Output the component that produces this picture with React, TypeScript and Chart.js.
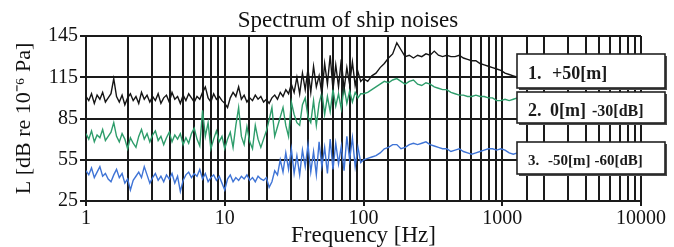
import React, { useEffect, useRef } from 'react';
import { Chart, registerables } from 'chart.js';

Chart.register(...registerables);

const FONT = "'Liberation Serif', 'Times New Roman', serif";

// Frequency axis (Hz)
const frequencies = [
  1, 1.047, 1.096, 1.148, 1.202, 1.259, 1.318, 1.380, 1.445, 1.514,
  1.585, 1.660, 1.738, 1.820, 1.905, 1.995, 2.089, 2.188, 2.291, 2.399,
  2.512, 2.630, 2.754, 2.884, 3.020, 3.162, 3.311, 3.467, 3.631, 3.802,
  3.981, 4.169, 4.365, 4.571, 4.786, 5.012, 5.248, 5.495, 5.754, 6.026,
  6.310, 6.607, 6.918, 7.244, 7.586, 7.943, 8.318, 8.710, 9.120, 9.550,
  10, 10.47, 10.96, 11.48, 12.02, 12.59, 13.18, 13.80, 14.45, 15.14,
  15.85, 16.60, 17.38, 18.20, 19.05, 19.95, 20.89, 21.88, 22.91, 23.99,
  25.12, 26.30, 27.54, 28.84, 30.20, 31.62, 33.11, 34.67, 36.31, 38.02,
  39.81, 41.69, 43.65, 45.71, 47.86, 50.12, 52.48, 54.95, 57.54, 60.26,
  63.10, 66.07, 69.18, 72.44, 75.86, 79.43, 83.18, 87.10, 91.20, 95.50,
  100,
  107.2, 114.8, 123.0, 131.8, 141.3, 151.4, 162.2, 173.8, 186.2, 199.5,
  213.8, 229.1, 245.5, 263.0, 281.8, 302.0, 323.6, 346.7, 371.5, 398.1,
  426.6, 457.1, 489.8, 524.8, 562.3, 602.6, 645.7, 691.8, 741.3, 794.3,
  851.1, 912.0, 977.2, 1047, 1122, 1202, 1288,
];

// 1. +50[m]
const seriesPlus50 = [
  101, 98, 103, 96, 102, 99, 104, 97, 100, 103,
  114, 101, 97, 102, 95, 100, 103, 98, 101, 96,
  104, 99, 102, 97, 101, 98, 103, 96, 100, 102,
  97, 104, 99, 101, 96, 102, 98, 103, 100, 97,
  101, 99, 104, 108, 100, 97, 103, 99, 101, 98,
  96, 93, 100, 104, 101, 108, 99, 102, 97, 100,
  98, 102, 99, 101, 97, 99, 96, 100, 102, 99,
  104, 101, 106, 103, 110, 104, 115, 103, 118, 106,
  121, 104, 123, 108, 116, 103, 125, 110, 131, 106,
  124, 108, 128, 106, 122, 110, 126, 109, 119, 112,
  114,
  112, 116, 118, 122, 125, 129, 132, 140, 135, 130,
  131, 129, 131, 130, 132, 131, 134, 131, 130, 131,
  130, 130, 131, 129, 128, 127, 127, 125, 124, 123,
  122, 121, 120, 118, 117, 116, 115,
];

// 2. 0[m] -30[dB]
const seriesZero = [
  74, 70, 76, 68, 73, 71, 77, 69, 72, 75,
  82, 72, 68, 74, 70, 63, 71, 67, 64, 72,
  77, 70, 74, 68, 73, 76, 69, 72, 66, 71,
  75, 68, 73, 70, 74, 66, 71, 67, 74, 78,
  70, 65, 91, 72, 82, 63, 70, 76, 68, 72,
  63, 70, 75, 64, 80, 93, 72, 66, 79, 68,
  63, 80, 70, 64, 70, 76, 84, 93, 72, 79,
  86, 93, 80, 72, 97, 88, 82, 80, 95, 100,
  86, 82, 98, 80, 96, 104, 88, 101, 90, 106,
  94, 103, 92, 108, 96, 105, 97, 104, 100, 103,
  103,
  104, 106, 108, 110, 112, 111, 113, 114, 112, 110,
  112, 113, 110, 109, 111, 110, 108, 107, 106, 106,
  104, 103, 102, 102, 101, 101, 102, 101, 101, 100,
  100, 98, 98, 99, 98, 99, 100,
];

// 3. -50[m] -60[dB]
const seriesMinus50 = [
  47, 44, 49, 42, 46, 50, 43, 45, 41, 39,
  44, 48, 42, 45, 38, 41, 33, 40, 43, 46,
  42, 50, 44, 38, 42, 45, 40, 43, 39, 44,
  41, 45, 38, 43, 32, 40, 44, 46, 42, 45,
  43, 48, 41, 45, 39, 42, 44, 40, 43, 38,
  33, 41, 44, 39, 42, 40, 43, 41, 44, 40,
  42, 39, 43, 41, 40, 42, 35, 39, 47, 44,
  55, 46, 60, 48, 63, 45, 58, 44, 62, 50,
  66, 46, 61, 44, 68, 50, 64, 45, 70, 48,
  67, 52, 65, 47, 72, 55, 71, 50, 64, 53,
  55,
  56, 57, 58, 60, 63, 64, 66, 66, 63, 64,
  66, 67, 66, 67, 68, 66, 65, 64, 63, 63,
  61, 62, 63, 61, 60, 59, 60, 61, 62, 63,
  63, 62, 63, 62, 60, 59, 60,
];

const yTickLabels = [25, 55, 85, 115, 145];
const xTickLabels = [1, 10, 100, 1000, 10000];
const seriesColors = ['#151515', '#2e9d6b', '#3f74d6'];
const legendNumbers = ['1.', '2.', '3.'];
const legendMain = ['+50[m]', '0[m]', '-50[m]'];
const legendSuffix = ['', '-30[dB]', '-60[dB]'];
const chartTitle = 'Spectrum of ship noises';

const legendBoxes = [
  { top: 54, bottom: 88, base: 79, numSize: 18, mainSize: 18, subSize: 14, mainX: 552, gap: 6 },
  { top: 92, bottom: 123, base: 116, numSize: 18, mainSize: 18, subSize: 16, mainX: 550, gap: 6 },
  { top: 142, bottom: 174, base: 165, numSize: 15, mainSize: 15, subSize: 15, mainX: 548, gap: 4 },
];

const overlayPlugin = {
  id: 'overlay',
  afterDraw(chart: any) {
    const ctx = chart.ctx as CanvasRenderingContext2D;
    ctx.save();
    // title
    ctx.fillStyle = '#111';
    ctx.font = `23px ${FONT}`;
    ctx.textAlign = 'center';
    ctx.textBaseline = 'alphabetic';
    ctx.fillText(chartTitle, 348, 27);
    // legend boxes
    const left = 517;
    const right = 665;
    legendBoxes.forEach((b, i) => {
      const w = right - left;
      const h = b.bottom - b.top;
      ctx.fillStyle = '#4a4a4a';
      ctx.fillRect(left + 2, b.top + 2, w, h);
      ctx.fillStyle = '#ffffff';
      ctx.fillRect(left, b.top, w, h);
      ctx.strokeStyle = '#222';
      ctx.lineWidth = 1.6;
      ctx.strokeRect(left, b.top, w, h);
      ctx.fillStyle = '#1a1a1a';
      ctx.textAlign = 'left';
      ctx.textBaseline = 'alphabetic';
      ctx.font = `bold ${b.numSize}px ${FONT}`;
      ctx.fillText(legendNumbers[i], 528, b.base);
      ctx.font = `bold ${b.mainSize}px ${FONT}`;
      ctx.fillText(legendMain[i], b.mainX, b.base);
      if (legendSuffix[i]) {
        const mw = ctx.measureText(legendMain[i]).width;
        ctx.font = `bold ${b.subSize}px ${FONT}`;
        ctx.fillText(legendSuffix[i], b.mainX + mw + b.gap, b.base);
      }
    });
    ctx.restore();
  },
};

export default function App() {
  const canvasRef = useRef<HTMLCanvasElement | null>(null);

  useEffect(() => {
    document.body.style.margin = '0';
    const canvas = canvasRef.current;
    if (!canvas) return;
    const allSeries = [seriesPlus50, seriesZero, seriesMinus50];
    const chart = new Chart(canvas, {
      type: 'line',
      data: {
        datasets: allSeries.map((s, k) => ({
          label: legendMain[k],
          data: frequencies.map((f, i) => ({ x: f, y: s[i] })),
          borderColor: seriesColors[k],
          borderWidth: 1.4,
          pointRadius: 0,
          tension: 0,
          fill: false,
        })),
      },
      options: {
        animation: false,
        responsive: false,
        maintainAspectRatio: false,
        layout: { padding: { top: 36, right: 33, left: 0, bottom: 0 } },
        plugins: {
          legend: { display: false },
          tooltip: { enabled: false },
          title: { display: false },
        },
        scales: {
          x: {
            type: 'logarithmic',
            min: 1,
            max: 10000,
            afterFit: (s: any) => { s.height = 46; },
            border: { color: '#1a1a1a', width: 2 },
            grid: {
              color: '#1a1a1a',
              lineWidth: 2,
              tickLength: 5,
              tickColor: (c: any) => (xTickLabels.includes(c.tick?.value) ? '#1a1a1a' : 'rgba(0,0,0,0)'),
            },
            ticks: {
              autoSkip: false,
              maxRotation: 0,
              padding: 1,
              color: '#111',
              font: { family: FONT, size: 20 },
              callback: (v: any) => (xTickLabels.includes(Number(v)) ? String(v) : ''),
            },
            title: {
              display: true,
              text: 'Frequency [Hz]',
              color: '#111',
              font: { family: FONT, size: 23, lineHeight: 1 },
              padding: { top: 0, bottom: 0 },
            },
          },
          y: {
            type: 'linear',
            min: 25,
            max: 145,
            afterFit: (s: any) => { s.width = 86; },
            border: { color: '#1a1a1a', width: 2 },
            grid: {
              color: '#1a1a1a',
              lineWidth: 2,
              tickLength: 6,
              tickColor: (c: any) => (yTickLabels.includes(c.tick?.value) ? '#1a1a1a' : 'rgba(0,0,0,0)'),
            },
            ticks: {
              stepSize: 15,
              padding: 2,
              color: '#111',
              font: { family: FONT, size: 20 },
              callback: (v: any) => (yTickLabels.includes(Number(v)) ? String(v) : ''),
            },
            title: {
              display: true,
              text: 'L [dB re 10⁻⁶ Pa]',
              color: '#111',
              font: { family: FONT, size: 22, lineHeight: 1 },
              padding: { top: 13, bottom: 0 },
            },
          },
        },
      },
      plugins: [overlayPlugin],
    });
    return () => chart.destroy();
  }, []);

  return (
    <div style={{ width: 674, height: 247, background: '#ffffff' }}>
      <canvas ref={canvasRef} width={674} height={247} style={{ display: 'block' }} />
    </div>
  );
}
